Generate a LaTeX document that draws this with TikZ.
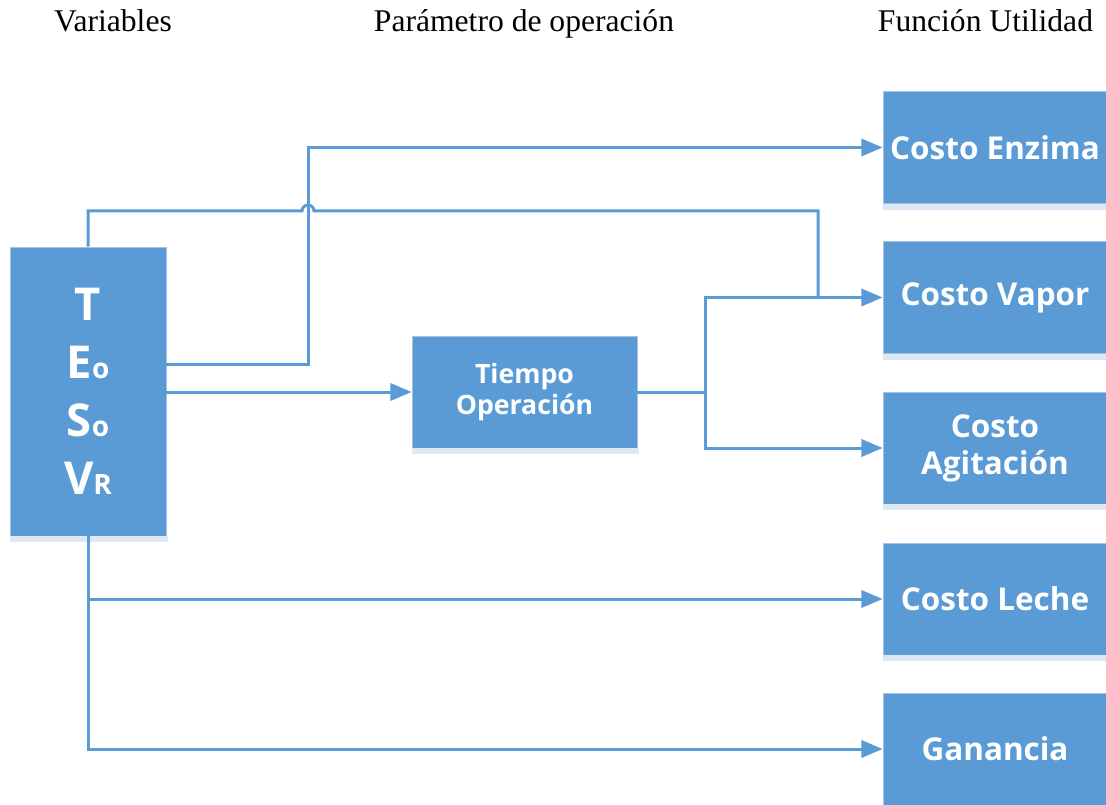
\documentclass[tikz,border=0pt]{standalone}
\usepackage{fontspec}
\setmainfont{Liberation Serif}
\newfontfamily\boxfont{Open Sans}
\usetikzlibrary{arrows.meta,calc}
\definecolor{boxblue}{HTML}{5B9BD5}
\definecolor{boxedge}{HTML}{A7C3E3}
\definecolor{shadowblue}{HTML}{DCE8F5}
\tikzset{
  bluebox/.style={rectangle, fill=boxblue, draw=boxedge, line width=0.6pt, inner sep=0pt,
    text=white, align=center, font=\boxfont\bfseries},
  conn/.style={draw=boxblue, line width=2.25pt},
  arr/.style={conn, -{Triangle[length=16pt,width=13pt]}},
  title/.style={anchor=base, font=\fontsize{23.7}{27}\selectfont},
}
\newcommand{\shadowunder}[1]{\fill[shadowblue] ($(#1.south west)+(0,0)$) rectangle ($(#1.south east)+(1.5,6)$);}
\begin{document}
\begin{tikzpicture}[x=0.75pt,y=-0.75pt]
\useasboundingbox (0,0) rectangle (1106,805);
% titles
\node[title] (t1) at (113,32) {Variables};
\node[title] (t2) at (524,32) {Parámetro de operación};
\node[title] (t3) at (985.5,32) {Función Utilidad};
% boxes
\node[bluebox, minimum width=117pt, minimum height=216.75pt,
  font=\boxfont\bfseries\fontsize{34}{43.5}\selectfont] (L) at (88,391.5)
  {T\\E{\fontsize{21}{21}\selectfont o}\\S{\fontsize{21}{21}\selectfont o}\\V{\fontsize{21}{21}\selectfont R}};
\node[bluebox, minimum width=168.75pt, minimum height=84pt,
  font=\boxfont\bfseries\fontsize{20}{23.25}\selectfont] (TO) at (524.5,392) {Tiempo\\Operación};
\tikzset{rbox/.style={bluebox, minimum width=168pt, minimum height=84pt,
  font=\boxfont\bfseries\fontsize{23.6}{27.75}\selectfont}}
\node[rbox] (CE) at (995,147.5) {Costo Enzima};
\node[rbox] (CV) at (995,297.5) {Costo Vapor};
\node[rbox] (CA) at (995,448) {Costo\\Agitación};
\node[rbox] (CL) at (995,599) {Costo Leche};
\node[rbox] (CG) at (995,749) {Ganancia};
\shadowunder{L}
\shadowunder{TO}
\shadowunder{CE}
\shadowunder{CV}
\shadowunder{CA}
\shadowunder{CL}
% connectors
\coordinate (j1) at (308,365);
\coordinate (j2) at (705,392);
\coordinate (j3) at (818,211);
\draw[arr] (L.east |- j1) -- (j1) |- (CE.west);
\draw[arr] (L.east |- TO.west) -- (TO.west);
\draw[conn] (TO.east) -- (j2);
\draw[arr] (j2) |- (CV.west);
\draw[arr] (j2) |- (CA.west);
\draw[conn] (L.north) -- (L.north |- j3) -- ($(j1 |- j3)+(-6,0)$)
  arc[start angle=180,end angle=0,radius=4.5pt] -- (j3) -- (j3 |- CV.west);
\draw[arr] (L.south) |- (CL.west);
\draw[arr] (L.south) |- (CG.west);
\end{tikzpicture}
\end{document}
